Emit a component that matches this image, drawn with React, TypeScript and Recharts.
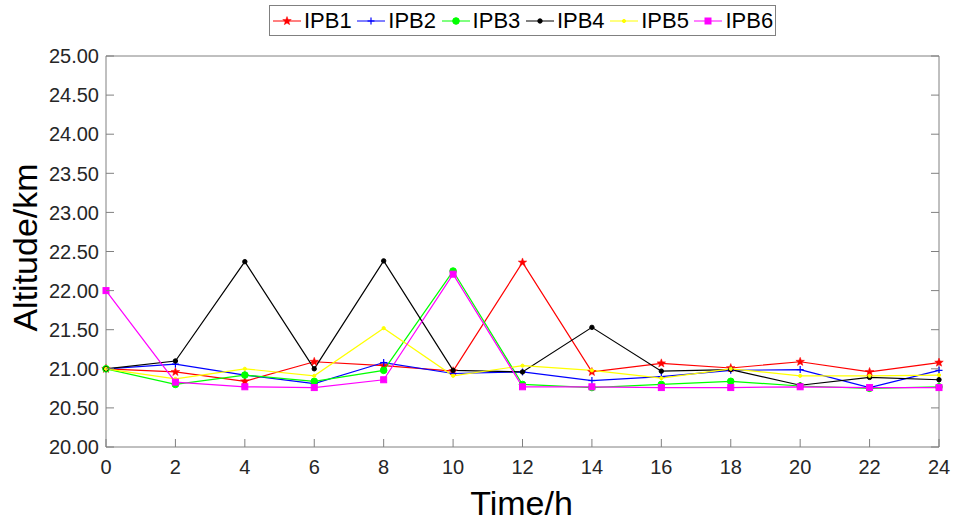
import React from 'react';
import { LineChart, Line, XAxis, YAxis, Legend, ReferenceLine } from 'recharts';

const hours = [0, 2, 4, 6, 8, 10, 12, 14, 16, 18, 20, 22, 24];
const ipb1 = [21.0, 20.96, 20.84, 21.09, 21.04, 20.97, 22.36, 20.96, 21.07, 21.01, 21.09, 20.96, 21.08];
const ipb2 = [21.0, 21.06, 20.92, 20.81, 21.08, 20.94, 20.96, 20.85, 20.9, 20.98, 20.99, 20.76, 20.98];
const ipb3 = [21.0, 20.8, 20.92, 20.84, 20.98, 22.25, 20.8, 20.76, 20.8, 20.84, 20.78, 20.75, 20.77];
const ipb4 = [21.0, 21.1, 22.37, 21.0, 22.38, 20.98, 20.96, 21.53, 20.97, 20.99, 20.79, 20.89, 20.86];
const ipb5 = [21.0, 20.87, 21.0, 20.91, 21.52, 20.91, 21.04, 20.98, 20.88, 21.0, 20.91, 20.91, 20.92];
const ipb6 = [22.0, 20.83, 20.77, 20.76, 20.86, 22.21, 20.77, 20.77, 20.76, 20.76, 20.77, 20.76, 20.76];

const xTicks = [0, 2, 4, 6, 8, 10, 12, 14, 16, 18, 20, 22, 24];
const yTicks = [20, 20.5, 21, 21.5, 22, 22.5, 23, 23.5, 24, 24.5, 25];

const seriesNames = ['IPB1', 'IPB2', 'IPB3', 'IPB4', 'IPB5', 'IPB6'];
const seriesValues = [ipb1, ipb2, ipb3, ipb4, ipb5, ipb6];
const seriesColors = ['#ff0000', '#0000ff', '#00ff00', '#000000', '#ffff00', '#ff00ff'];
const seriesMarkers = ['star', 'plus', 'circle', 'dot', 'point', 'square'];

const data = hours.map((t, i) => {
  const row: any = { t };
  seriesNames.forEach((n, k) => {
    row[n] = seriesValues[k][i];
  });
  return row;
});

const FONT = '"Liberation Sans", Arial, Helvetica, sans-serif';
const AXIS = '#808080';
const TEXT = '#262626';

function starPoints(cx: number, cy: number, r: number) {
  const pts: string[] = [];
  for (let i = 0; i < 10; i++) {
    const rr = i % 2 === 0 ? r : r * 0.42;
    const a = -Math.PI / 2 + (i * Math.PI) / 5;
    pts.push(`${cx + rr * Math.cos(a)},${cy + rr * Math.sin(a)}`);
  }
  return pts.join(' ');
}

function Marker({ cx, cy, type, color }: { cx: number; cy: number; type: string; color: string }) {
  if (cx == null || cy == null) return null;
  switch (type) {
    case 'star':
      return <polygon points={starPoints(cx, cy, 4.5)} fill={color} stroke={color} strokeWidth={0.5} />;
    case 'plus':
      return (
        <g stroke={color} strokeWidth={1.2}>
          <line x1={cx - 3.5} x2={cx + 3.5} y1={cy} y2={cy} />
          <line x1={cx} x2={cx} y1={cy - 3.5} y2={cy + 3.5} />
        </g>
      );
    case 'circle':
      return <circle cx={cx} cy={cy} r={3.3} fill={color} stroke={color} />;
    case 'dot':
      return <circle cx={cx} cy={cy} r={2.2} fill={color} stroke={color} />;
    case 'point':
      return <circle cx={cx} cy={cy} r={1.6} fill={color} stroke={color} />;
    case 'square':
      return <rect x={cx - 3} y={cy - 3} width={6} height={6} fill={color} stroke={color} />;
    default:
      return null;
  }
}

const YTick = (props: any) => {
  const { x, y, payload } = props;
  const axisX = x + 7;
  return (
    <g>
      <line x1={axisX} x2={axisX + 8} y1={y} y2={y} stroke={AXIS} strokeWidth={1} />
      <text x={x} y={y} dy="0.36em" textAnchor="end" fontSize={20} fontFamily={FONT} fill={TEXT}>
        {Number(payload.value).toFixed(2)}
      </text>
    </g>
  );
};

const RightTick = (props: any) => {
  const { x, y } = props;
  return <line x1={x} x2={x - 8} y1={y} y2={y} stroke={AXIS} strokeWidth={1} />;
};

const XTick = (props: any) => {
  const { x, y, payload } = props;
  const axisY = y - 13;
  return (
    <g>
      <line x1={x} x2={x} y1={axisY} y2={axisY - 8} stroke={AXIS} strokeWidth={1} />
      <text x={x} y={y} dy="0.71em" textAnchor="middle" fontSize={20} fontFamily={FONT} fill={TEXT}>
        {payload.value}
      </text>
    </g>
  );
};

const LegendContent = () => (
  <div
    style={{
      width: 507,
      height: 31,
      border: `1px solid ${AXIS}`,
      boxSizing: 'border-box',
      background: '#fff',
      display: 'flex',
      alignItems: 'center',
      paddingLeft: 3,
      fontFamily: FONT,
      fontSize: 22,
      color: '#000',
    }}
  >
    {seriesNames.map((n, k) => (
      <div key={n} style={{ width: 84.3, display: 'flex', alignItems: 'center', flexShrink: 0 }}>
        <svg width={28} height={12} style={{ display: 'block' }}>
          <line x1={0} x2={28} y1={6} y2={6} stroke={seriesColors[k]} strokeWidth={1} />
          <Marker cx={14} cy={6} type={seriesMarkers[k]} color={seriesColors[k]} />
        </svg>
        <span style={{ marginLeft: 3, lineHeight: '22px' }}>{n}</span>
      </div>
    ))}
  </div>
);

export default function App() {
  return (
    <div style={{ position: 'absolute', left: 0, top: 0, width: 961, height: 525, background: '#fff' }}>
      <LineChart width={961} height={525} data={data} margin={{ top: 56, right: 12, bottom: 48, left: 26 }}>
        <XAxis
          dataKey="t"
          type="number"
          domain={[0, 24]}
          ticks={xTicks}
          interval={0}
          height={30}
          tickSize={0}
          tickMargin={13}
          tickLine={false}
          axisLine={{ stroke: AXIS, strokeWidth: 1 }}
          tick={<XTick />}
          label={(p: any) => {
            const vb = p.viewBox;
            return (
              <text x={vb.x + vb.width / 2 - 1} y={vb.y + 68} textAnchor="middle" fontSize={34} fontFamily={FONT} fill="#000">
                Time/h
              </text>
            );
          }}
        />
        <YAxis
          yAxisId="left"
          type="number"
          domain={[20, 25]}
          ticks={yTicks}
          interval={0}
          width={80}
          tickSize={0}
          tickMargin={7}
          tickLine={false}
          axisLine={{ stroke: AXIS, strokeWidth: 1 }}
          tick={<YTick />}
          allowDataOverflow
          label={(p: any) => {
            const vb = p.viewBox;
            const cx = vb.x + 11;
            const cy = vb.y + vb.height / 2 - 4;
            return (
              <text x={cx} y={cy} transform={`rotate(-90 ${cx} ${cy})`} textAnchor="middle" fontSize={34} fontFamily={FONT} fill="#000">
                Altitude/km
              </text>
            );
          }}
        />
        <YAxis
          yAxisId="right"
          orientation="right"
          type="number"
          domain={[20, 25]}
          ticks={yTicks}
          interval={0}
          width={10}
          tickSize={0}
          tickMargin={0}
          tickLine={false}
          axisLine={{ stroke: AXIS, strokeWidth: 1 }}
          tick={<RightTick />}
          allowDataOverflow
        />
        <ReferenceLine yAxisId="left" y={25} stroke={AXIS} strokeWidth={1} />
        <Legend
          layout="horizontal"
          verticalAlign="middle"
          align="center"
          wrapperStyle={{ left: 269, top: 5, width: 507, height: 31 }}
          content={<LegendContent />}
        />
        {seriesNames.map((n, k) => (
          <Line
            key={n}
            yAxisId="left"
            type="linear"
            dataKey={n}
            stroke={seriesColors[k]}
            strokeWidth={1.2}
            isAnimationActive={false}
            dot={(p: any) => <Marker key={`${n}-${p.index}`} cx={p.cx} cy={p.cy} type={seriesMarkers[k]} color={seriesColors[k]} />}
            activeDot={false}
          />
        ))}
      </LineChart>
    </div>
  );
}
